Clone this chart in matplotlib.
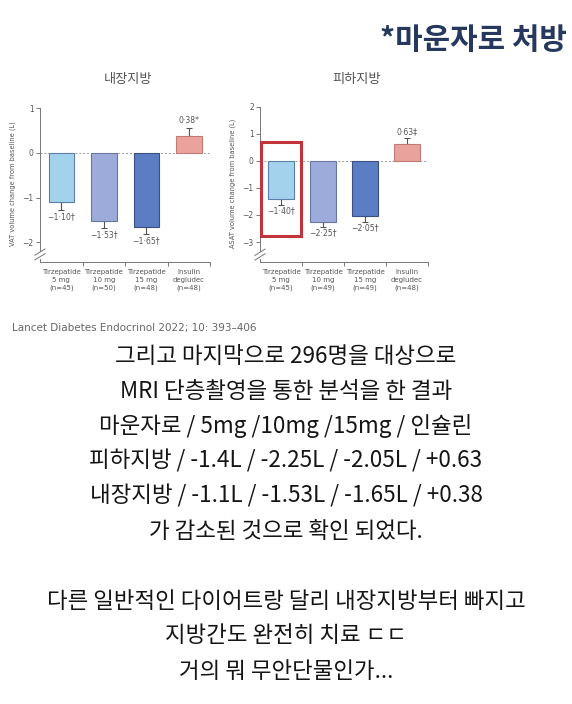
import matplotlib
matplotlib.use("Agg")
import matplotlib.pyplot as plt
from matplotlib.patches import Rectangle

plt.rcParams['font.family'] = ['Noto Sans CJK KR', 'DejaVu Sans']

# 데이터
그룹 = ["Tirzepatide\n5 mg\n(n=45)", "Tirzepatide\n10 mg\n(n=50)",
       "Tirzepatide\n15 mg\n(n=48)", "Insulin\ndegludec\n(n=48)"]
그룹_피하 = ["Tirzepatide\n5 mg\n(n=45)", "Tirzepatide\n10 mg\n(n=49)",
          "Tirzepatide\n15 mg\n(n=49)", "Insulin\ndegludec\n(n=48)"]
vat = [-1.10, -1.53, -1.65, 0.38]
vat_se = [0.17, 0.15, 0.16, 0.18]
vat_txt = ["\u22121\u00b710\u2020", "\u22121\u00b753\u2020", "\u22121\u00b765\u2020", "0\u00b738*"]
asat = [-1.40, -2.25, -2.05, 0.63]
asat_se = [0.22, 0.19, 0.20, 0.22]
asat_txt = ["\u22121\u00b740\u2020", "\u22122\u00b725\u2020", "\u22122\u00b705\u2020", "0\u00b763\u2021"]

색 = ["#a3d3ec", "#9cabd9", "#5b7dc4", "#e9a39c"]
테두리 = ["#5d7ea6", "#6677a0", "#3b5080", "#c27a74"]

W, H = 572, 704
fig = plt.figure(figsize=(W / 100, H / 100), dpi=100)
fig.patch.set_facecolor("white")


def px_axes(x0, x1, y_top, y_bot):
    return fig.add_axes([x0 / W, 1 - y_bot / H, (x1 - x0) / W, (y_bot - y_top) / H])


def bar_panel(ax, vals, errs, labels, names, ylim, yticks, ylabel, brk):
    xs = [i + 0.5 for i in range(len(vals))]
    ax.bar(xs, vals, width=0.6, color=색, edgecolor=테두리, linewidth=0.8, zorder=3)
    for x, v, e, t in zip(xs, vals, errs, labels):
        sgn = 1 if v > 0 else -1
        ax.errorbar(x, v, yerr=[[0], [e]] if v > 0 else [[e], [0]], fmt="none",
                    ecolor="#555555", elinewidth=0.8, capsize=2, capthick=0.8, zorder=2)
        ax.text(x, v + sgn * (e + 0.06), t, ha="center",
                va="bottom" if v > 0 else "top", fontsize=5.6, color="#555555",
                family="DejaVu Sans")
    ax.axhline(0, color="#999999", lw=0.7, ls=(0, (2, 2)), zorder=1)
    ax.set_xlim(0, len(vals))
    ax.set_ylim(*ylim)
    ax.set_yticks(yticks)
    ax.set_yticklabels([f"{t}" if t >= 0 else f"\u2212{-t}" for t in yticks],
                       fontsize=5.5, color="#555555", family="DejaVu Sans")
    ax.set_xticks(range(1, len(vals) + 1))
    ax.set_xticklabels([])
    ax.set_xticks(xs, minor=True)
    ax.set_xticklabels(names, minor=True, fontsize=5, color="#555555",
                       family="DejaVu Sans", linespacing=1.35)
    ax.tick_params(axis="x", which="minor", length=0, pad=5)
    ax.tick_params(axis="x", which="major", length=3, width=0.7, color="#777777")
    ax.tick_params(axis="y", length=3, width=0.7, color="#777777", pad=1.5)
    for s in ["top", "right"]:
        ax.spines[s].set_visible(False)
    for s in ["left", "bottom"]:
        ax.spines[s].set_color("#777777")
        ax.spines[s].set_linewidth(0.7)
    ax.spines["left"].set_bounds(brk, ylim[1] - 0.05)
    # 축 끊김 표시
    y0, y1 = ylim
    fb = (brk - y0) / (y1 - y0)
    ax.plot([0, 0], [0, fb - 0.05], transform=ax.transAxes, color="#777777",
            lw=0.7, clip_on=False)
    for d in (fb - 0.035, fb - 0.005):
        ax.plot([-0.03, 0.03], [d - 0.02, d + 0.02], transform=ax.transAxes,
                color="#777777", lw=0.7, clip_on=False)
    ax.set_ylabel(ylabel, fontsize=4.8, color="#555555", family="DejaVu Sans", labelpad=5)


ax1 = px_axes(40, 210, 106, 262)
bar_panel(ax1, vat, vat_se, vat_txt, 그룹, (-2.44, 1.05), [1, 0, -1, -2],
          "VAT volume change from baseline (L)", -2.2)

ax2 = px_axes(260, 428, 105.6, 262)
bar_panel(ax2, asat, asat_se, asat_txt, 그룹_피하, (-3.74, 2.05), [2, 1, 0, -1, -2, -3],
          "ASAT volume change from baseline (L)", -3.35)
ax2.add_patch(Rectangle((0.03, -2.78), 0.94, 3.48, fill=False, edgecolor="#c2343a",
                        lw=2.2, zorder=5, clip_on=False))

fig.text(128 / W, 1 - 80 / H, "내장지방", ha="center", va="center", fontsize=9.5, color="#555555")
fig.text(357 / W, 1 - 79 / H, "피하지방", ha="center", va="center", fontsize=9.5, color="#555555")
fig.text(567 / W, 1 - 40 / H, "*마운자로 처방", ha="right", va="center", fontsize=21.5,
         fontweight="bold", color="#26385e")
fig.text(12 / W, 1 - 328 / H, "Lancet Diabetes Endocrinol 2022; 10: 393\u2013406",
         ha="left", va="center", fontsize=7.5, color="#666666", family="DejaVu Sans")

본문 = ["그리고 마지막으로 296명을 대상으로",
       "MRI 단층촬영을 통한 분석을 한 결과",
       "마운자로 / 5mg /10mg /15mg / 인슐린",
       "피하지방 / -1.4L / -2.25L / -2.05L / +0.63",
       "내장지방 / -1.1L / -1.53L / -1.65L / +0.38",
       "가 감소된 것으로 확인 되었다."]
for i, line in enumerate(본문):
    fig.text(0.5, 1 - (356 + i * 35) / H, line, ha="center", va="center",
             fontsize=16.2, color="#151515")

맺음 = ["다른 일반적인 다이어트랑 달리 내장지방부터 빠지고",
       "지방간도 완전히 치료 ㄷㄷ",
       "거의 뭐 무안단물인가..."]
for i, line in enumerate(맺음):
    fig.text(0.5, 1 - (601 + i * 35) / H, line, ha="center", va="center",
             fontsize=16.1, color="#151515")

fig.savefig("out.png", dpi=100, facecolor="white")
